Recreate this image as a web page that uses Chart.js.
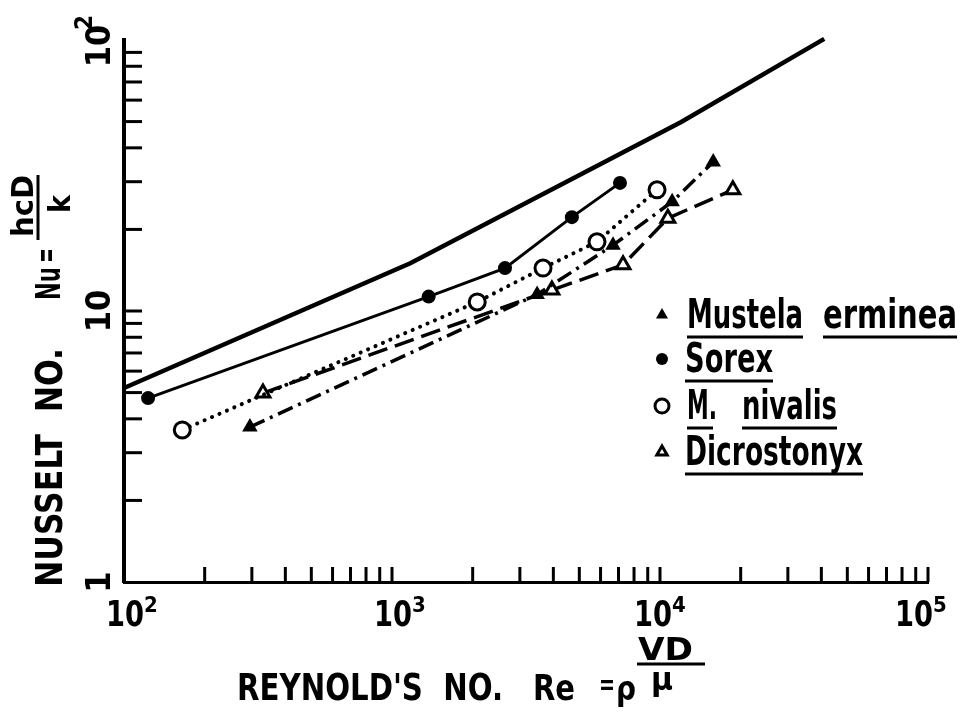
<!DOCTYPE html>
<html>
<head>
<meta charset="utf-8">
<script src="https://cdn.jsdelivr.net/npm/chart.js@4.4.0/dist/chart.umd.min.js"></script>
<style>
  html, body { margin: 0; padding: 0; background: #fff; }
</style>
</head>
<body>
<canvas id="myChart" width="967" height="714"></canvas>
<script>
// valori: Re (asse x) e Nu (asse y), tutti e due logaritmici
const curvaRe = [100, 1170, 12000, 41000]
const curvaNu = [5.2, 15.0, 49.8, 101]

const sorexRe = [123, 1370, 2640, 4690, 7090]
const sorexNu = [4.77, 11.3, 14.4, 22.2, 29.7]

const nivalisRe = [165, 2080, 3660, 5820, 9750]
const nivalisNu = [3.64, 10.8, 14.4, 18.0, 28.0]

const mustelaRe = [295, 3480, 6680, 11100, 15800]
const mustelaNu = [3.73, 11.5, 17.5, 25.3, 35.5]

const dicroRe = [330, 3950, 7280, 10700, 18700]
const dicroNu = [4.98, 11.95, 14.8, 22.0, 28.0]

// tacche e etichette degli assi
const xDecadi = [100, 1000, 10000]
const yDecadi = [1, 10]
const passi = [2, 3, 4, 5, 6, 7, 8, 9, 10]
const xTickValues = [100, 1000, 10000, 100000]
const xTickEsp = ['2', '3', '4', '5']
const yTickValues = [1, 10, 100]
const yTickLabels = ['1', '10', '10']
const yTickEsp = ['', '', '2']

const legendLabels = [['Mustela', 'erminea'], ['Sorex'], ['M.', 'nivalis'], ['Dicrostonyx']]

const FONT = '"DejaVu Sans Condensed", "DejaVu Sans", sans-serif'
const nero = '#000'

function punti(xs, ys) {
  return xs.map((x, i) => ({ x: x, y: ys[i] }))
}

// scrive un testo allargandolo/stringendolo fino alla larghezza w
function testo(ctx, str, x, y, w, size, align) {
  ctx.font = 'bold ' + size + 'px ' + FONT
  const m = ctx.measureText(str).width
  ctx.save()
  ctx.translate(x, y)
  if (w) ctx.scale(w / m, 1)
  ctx.textAlign = align || 'left'
  ctx.fillText(str, 0, 0)
  ctx.restore()
}

function riga(ctx, x1, y1, x2, y2, lw) {
  ctx.lineWidth = lw
  ctx.beginPath()
  ctx.moveTo(x1, y1)
  ctx.lineTo(x2, y2)
  ctx.stroke()
}

// disegna tacche interne, etichette, titoli e legenda come nel disegno originale
const cartaPlugin = {
  id: 'carta',
  afterDraw(chart) {
    const ctx = chart.ctx
    const xs = chart.scales.x
    const ys = chart.scales.y
    const area = chart.chartArea
    ctx.save()
    ctx.strokeStyle = nero
    ctx.fillStyle = nero
    ctx.lineCap = 'butt'

    // tacche asse x (verso l'alto)
    xDecadi.forEach(d => {
      passi.forEach(p => {
        const px = xs.getPixelForValue(d * p)
        riga(ctx, px, area.bottom, px, area.bottom - 15, 3)
      })
    })
    // tacche asse y (verso destra)
    yDecadi.forEach(d => {
      passi.forEach(p => {
        const v = d * p
        if (v >= 100) return
        const py = ys.getPixelForValue(v)
        riga(ctx, area.left, py, area.left + 18, py, 3)
      })
    })

    // etichette asse x (spostamenti come nell'originale)
    const sposta = [1, 1, -7, -14]
    ctx.textBaseline = 'alphabetic'
    xTickValues.forEach((v, i) => {
      const px = xs.getPixelForValue(v) + sposta[i]
      testo(ctx, '10', px, 626, 38, 36, 'center')
      testo(ctx, xTickEsp[i], px + 19, 612, 0, 22)
    })

    // etichette asse y (ruotate)
    ctx.save()
    ctx.rotate(-Math.PI / 2)
    yTickValues.forEach((v, i) => {
      const py = ys.getPixelForValue(v)
      const c = i == 2 ? py + 6 : py
      testo(ctx, yTickLabels[i], -c, 110, 0, 34, 'center')
      if (yTickEsp[i]) testo(ctx, yTickEsp[i], -c + 16, 92, 0, 24)
    })

    // titolo asse y
    testo(ctx, 'NUSSELT  NO.', -587, 62, 239, 38)
    testo(ctx, 'Nu', -300, 60, 33, 34)
    testo(ctx, '=', -263, 57, 15, 32)
    testo(ctx, 'hcD', -237, 33, 62, 30)
    riga(ctx, -240, 38, -175, 38, 3)
    testo(ctx, 'k', -213, 70, 18, 30)
    ctx.restore()

    // titolo asse x
    testo(ctx, "REYNOLD'S  NO.", 237, 700, 266, 38)
    testo(ctx, 'Re', 533, 700, 42, 36)
    testo(ctx, '=', 599, 694, 16, 28)
    testo(ctx, 'ρ', 616, 700, 20, 34)
    testo(ctx, 'VD', 638, 660, 55, 32)
    riga(ctx, 637, 664, 705, 664, 3)
    testo(ctx, 'μ', 651, 690, 22, 32)

    // legenda
    const righe = [315, 359, 406, 452]
    const stili = [
      { pointStyle: 'triangle', radius: 7, borderWidth: 0, fill: nero },
      { pointStyle: 'circle', radius: 6, borderWidth: 0, fill: nero },
      { pointStyle: 'circle', radius: 7, borderWidth: 3, fill: '#fff' },
      { pointStyle: 'triangle', radius: 6, borderWidth: 3, fill: '#fff' }
    ]
    const parole = [[[687, 116], [823, 134]], [[685, 88]], [[687, 30], [742, 95]], [[685, 178]]]
    const sottolinea = [[116, 134], [88], [26, 95], [178]]
    righe.forEach((cy, r) => {
      ctx.fillStyle = stili[r].fill
      Chart.helpers.drawPoint(ctx, stili[r], 662, cy)
      ctx.fillStyle = nero
      legendLabels[r].forEach((w, k) => {
        const pos = parole[r][k]
        testo(ctx, w, pos[0], cy + 13, pos[1], 40)
        riga(ctx, pos[0], cy + 22, pos[0] + sottolinea[r][k], cy + 22, 3)
      })
    })
    ctx.restore()
  }
}

const ctx = document.getElementById('myChart').getContext('2d')
const myChart = new Chart(ctx, {
  type: 'scatter',
  data: {
    datasets: [
      {
        label: 'curva',
        data: punti(curvaRe, curvaNu),
        showLine: true,
        borderColor: nero,
        borderWidth: 4.5,
        pointRadius: 0,
        clip: false
      },
      {
        label: 'Sorex',
        data: punti(sorexRe, sorexNu),
        showLine: true,
        borderColor: nero,
        backgroundColor: nero,
        borderWidth: 3,
        pointStyle: 'circle',
        pointRadius: 7,
        pointBorderWidth: 0
      },
      {
        label: 'M. nivalis',
        data: punti(nivalisRe, nivalisNu),
        showLine: true,
        borderColor: nero,
        backgroundColor: '#fff',
        borderWidth: 4,
        borderDash: [0.1, 8],
        borderCapStyle: 'round',
        pointStyle: 'circle',
        pointRadius: 8,
        pointBorderWidth: 3
      },
      {
        label: 'Mustela erminea',
        data: punti(mustelaRe, mustelaNu),
        showLine: true,
        borderColor: nero,
        backgroundColor: nero,
        borderWidth: 3.5,
        borderDash: [16, 6, 3, 6],
        pointStyle: 'triangle',
        pointRadius: 9,
        pointBorderWidth: 0
      },
      {
        label: 'Dicrostonyx',
        data: punti(dicroRe, dicroNu),
        showLine: true,
        borderColor: nero,
        backgroundColor: '#fff',
        borderWidth: 3.5,
        borderDash: [20, 8],
        pointStyle: 'triangle',
        pointRadius: 8,
        pointBorderWidth: 3
      }
    ]
  },
  options: {
    responsive: false,
    animation: false,
    devicePixelRatio: 1,
    events: [],
    layout: { padding: { top: 40, right: 39, left: 0, bottom: 0 } },
    plugins: {
      legend: { display: false },
      tooltip: { enabled: false }
    },
    scales: {
      x: {
        type: 'logarithmic',
        min: 100,
        max: 100000,
        grid: { display: false, drawTicks: false },
        border: { display: true, color: nero, width: 3 },
        ticks: { display: false },
        afterFit: s => { s.height = 132 }
      },
      y: {
        type: 'logarithmic',
        min: 1,
        max: 100,
        grid: { display: false, drawTicks: false },
        border: { display: true, color: nero, width: 4 },
        ticks: { display: false },
        afterFit: s => { s.width = 124 }
      }
    }
  },
  plugins: [cartaPlugin]
})
</script>
</body>
</html>
